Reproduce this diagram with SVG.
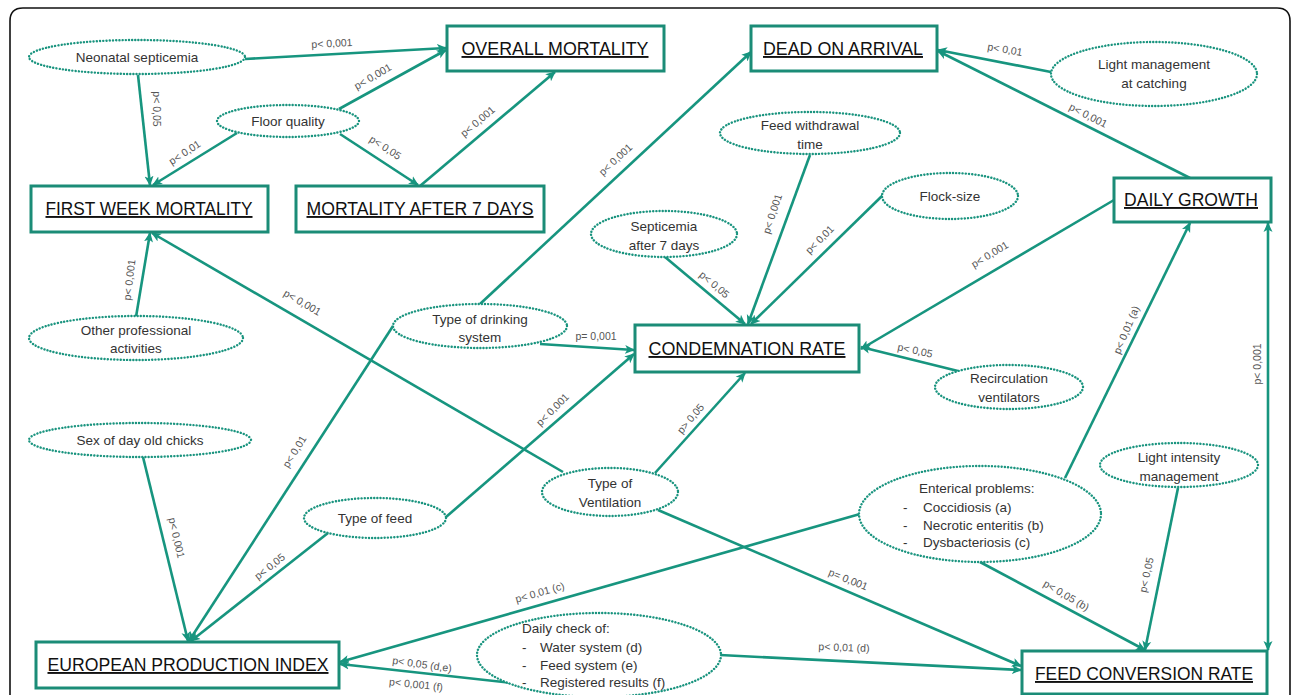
<svg xmlns="http://www.w3.org/2000/svg" width="1292" height="695" viewBox="0 0 1292 695">
<style>
.box{fill:#fff;stroke:#1b8c77;stroke-width:3}
.bt{font-family:"Liberation Sans",Arial,sans-serif;font-size:19px;fill:#111;text-anchor:middle;text-decoration:underline}
.el{fill:#fff;stroke:#1a947f;stroke-width:2.4;stroke-dasharray:0.1 3.1;stroke-linecap:round}
.et{font-family:"Liberation Sans",Arial,sans-serif;font-size:13.5px;fill:#333;text-anchor:middle}
.el2{font-family:"Liberation Sans",Arial,sans-serif;font-size:13.5px;fill:#333}
.c{fill:none;stroke:#17957f;stroke-width:2.6;marker-end:url(#ah)}
.lb{font-family:"Liberation Sans",Arial,sans-serif;font-size:10.5px;fill:#555;text-anchor:middle}
</style>
<defs>
<marker id="ah" markerUnits="userSpaceOnUse" markerWidth="10" markerHeight="10" refX="9" refY="5" orient="auto-start-reverse">
<path d="M0,0.5 L10,5 L0,9.5 L2.5,5 z" fill="#17957f"/>
</marker>
</defs>
<rect width="1292" height="695" fill="#fff"/>
<path d="M10,700 L10,21 Q10,8 23,8 L1277,8 Q1290,8 1290,21 L1290,700" fill="none" stroke="#111" stroke-width="1.6"/>

<g id="connectors">
<path class="c" d="M245,59 L446,48"/>
<path class="c" d="M138,75 L150,185"/>
<path class="c" d="M237,133 L153,185"/>
<path class="c" d="M339,109 L446,50"/>
<path class="c" d="M340,134 L418,185"/>
<path class="c" d="M420,186 L555,72"/>
<path class="c" d="M480,304 L751,52"/>
<path class="c" d="M393,326 L189,641"/>
<path class="c" d="M540,344 L634,350"/>
<path class="c" d="M446,517 L634,354"/>
<path class="c" d="M328,533 L191,641"/>
<path class="c" d="M143,457 L188,641"/>
<path class="c" d="M136,317 L150,233"/>
<path class="c" d="M563,472 L152,233"/>
<path class="c" d="M655,473 L745,373"/>
<path class="c" d="M658,510 L1021,666"/>
<path class="c" d="M665,257 L745,324"/>
<path class="c" d="M810,155 L748,324"/>
<path class="c" d="M883,195 L751,324"/>
<path class="c" d="M1114,200 L861,349"/>
<path class="c" d="M958,371 L861,347"/>
<path class="c" d="M1190,178 L938,51"/>
<path class="c" d="M1051,72 L938,50"/>
<path class="c" d="M1065,478 L1190,223"/>
<path class="c" d="M1268,223 L1268,650" style="marker-start:url(#ah)"/>
<path class="c" d="M980,562 L1145,650"/>
<path class="c" d="M1178,488 L1145,650"/>
<path class="c" d="M860,514 L340,662"/>
<path class="c" d="M720,655 L1021,670"/>
<path class="c" d="M512,683 L340,664"/>
</g>

<g id="labels">
<text class="lb" x="332" y="47" transform="rotate(-3 332 44)">p&lt; 0,001</text>
<text class="lb" x="156" y="112" transform="rotate(90 156 109)">p&lt; 0,05</text>
<text class="lb" x="185" y="156" transform="rotate(-33 185 153)">p&lt; 0,01</text>
<text class="lb" x="373" y="80" transform="rotate(-30 373 77)">p&lt; 0,001</text>
<text class="lb" x="385" y="151" transform="rotate(33 385 148)">p&lt; 0,05</text>
<text class="lb" x="478" y="125" transform="rotate(-40 478 122)">p&lt; 0,001</text>
<text class="lb" x="616" y="163" transform="rotate(-43 616 160)">p&lt; 0,001</text>
<text class="lb" x="295" y="455" transform="rotate(-58 295 452)">p&lt; 0,01</text>
<text class="lb" x="596" y="340">p= 0,001</text>
<text class="lb" x="553" y="413" transform="rotate(-45 553 410)">p&lt; 0,001</text>
<text class="lb" x="270" y="570" transform="rotate(-38 270 567)">p&lt; 0,05</text>
<text class="lb" x="176" y="541" transform="rotate(77 176 538)">p&lt; 0,001</text>
<text class="lb" x="130" y="283" transform="rotate(-83 130 280)">p&lt; 0,001</text>
<text class="lb" x="302" y="306" transform="rotate(30 302 303)">p&lt; 0,001</text>
<text class="lb" x="691" y="422" transform="rotate(-50 691 419)">p&gt; 0,05</text>
<text class="lb" x="848" y="583" transform="rotate(22 848 580)">p= 0,001</text>
<text class="lb" x="714" y="288" transform="rotate(40 714 285)">p&lt; 0,05</text>
<text class="lb" x="773" y="217" transform="rotate(-72 773 214)">p&lt; 0,001</text>
<text class="lb" x="820" y="243" transform="rotate(-45 820 240)">p&lt; 0,01</text>
<text class="lb" x="990" y="258" transform="rotate(-31 990 255)">p&lt; 0,001</text>
<text class="lb" x="915" y="354" transform="rotate(12 915 351)">p&lt; 0,05</text>
<text class="lb" x="1088" y="119" transform="rotate(27 1088 116)">p&lt; 0,001</text>
<text class="lb" x="1005" y="53" transform="rotate(10 1005 50)">p&lt; 0,01</text>
<text class="lb" x="1127" y="333" transform="rotate(-67 1127 330)">p&lt; 0,01 (a)</text>
<text class="lb" x="1258" y="367" transform="rotate(-90 1258 364)">p&lt; 0,001</text>
<text class="lb" x="1066" y="599" transform="rotate(30 1066 596)">p&lt; 0,05 (b)</text>
<text class="lb" x="1147" y="578" transform="rotate(-78 1147 575)">p&lt; 0,05</text>
<text class="lb" x="540" y="596" transform="rotate(-16 540 593)">p&lt; 0,01 (c)</text>
<text class="lb" x="844" y="651" transform="rotate(2 844 648)">p&lt; 0,01 (d)</text>
<text class="lb" x="422" y="668" transform="rotate(8 422 665)">p&lt; 0,05 (d,e)</text>
<text class="lb" x="416" y="688" transform="rotate(6 416 685)">p&lt; 0,001 (f)</text>
</g>

<g id="overall-mortality"><rect class="box" x="447" y="26" width="217" height="45"/><text class="bt" x="555" y="55" textLength="187" lengthAdjust="spacingAndGlyphs">OVERALL MORTALITY</text></g>
<g id="dead-on-arrival"><rect class="box" x="751" y="26" width="186" height="45"/><text class="bt" x="843" y="55" textLength="160" lengthAdjust="spacingAndGlyphs">DEAD ON ARRIVAL</text></g>
<g id="first-week-mortality"><rect class="box" x="31" y="186" width="237" height="46"/><text class="bt" x="149" y="215" textLength="207" lengthAdjust="spacingAndGlyphs">FIRST WEEK MORTALITY</text></g>
<g id="mortality-after-7-days"><rect class="box" x="296" y="186" width="248" height="46"/><text class="bt" x="420" y="215" textLength="227" lengthAdjust="spacingAndGlyphs">MORTALITY AFTER 7 DAYS</text></g>
<g id="daily-growth"><rect class="box" x="1114" y="178" width="157" height="44"/><text class="bt" x="1191" y="206" textLength="134" lengthAdjust="spacingAndGlyphs">DAILY GROWTH</text></g>
<g id="condemnation-rate"><rect class="box" x="635" y="325" width="224" height="47"/><text class="bt" x="747" y="355" textLength="197" lengthAdjust="spacingAndGlyphs">CONDEMNATION RATE</text></g>
<g id="european-production-index"><rect class="box" x="36" y="642" width="303" height="46"/><text class="bt" x="188" y="671" textLength="281" lengthAdjust="spacingAndGlyphs">EUROPEAN PRODUCTION INDEX</text></g>
<g id="feed-conversion-rate"><rect class="box" x="1022" y="651" width="245" height="43"/><text class="bt" x="1144" y="680" textLength="218" lengthAdjust="spacingAndGlyphs">FEED CONVERSION RATE</text></g>

<g id="neonatal-septicemia"><ellipse class="el" cx="137" cy="57" rx="108" ry="17"/><text class="et" x="137" y="62">Neonatal septicemia</text></g>
<g id="floor-quality"><ellipse class="el" cx="288" cy="121" rx="71" ry="16"/><text class="et" x="288" y="126">Floor quality</text></g>
<g id="feed-withdrawal-time"><ellipse class="el" cx="810" cy="133" rx="90" ry="21"/><text class="et" x="810" y="130">Feed withdrawal</text><text class="et" x="810" y="149">time</text></g>
<g id="light-management-at-catching"><ellipse class="el" cx="1154" cy="74" rx="103" ry="32"/><text class="et" x="1154" y="69">Light management</text><text class="et" x="1154" y="88">at catching</text></g>
<g id="flock-size"><ellipse class="el" cx="950" cy="196" rx="68" ry="23"/><text class="et" x="950" y="201">Flock-size</text></g>
<g id="septicemia-after-7-days"><ellipse class="el" cx="664" cy="234" rx="73" ry="23"/><text class="et" x="664" y="231">Septicemia</text><text class="et" x="664" y="250">after 7 days</text></g>
<g id="other-professional-activities"><ellipse class="el" cx="136" cy="338" rx="107" ry="22"/><text class="et" x="136" y="335">Other professional</text><text class="et" x="136" y="353">activities</text></g>
<g id="sex-of-day-old-chicks"><ellipse class="el" cx="140" cy="440" rx="111" ry="17"/><text class="et" x="140" y="445">Sex of day old chicks</text></g>
<g id="type-of-drinking-system"><ellipse class="el" cx="480" cy="326" rx="87" ry="22"/><text class="et" x="480" y="324">Type of drinking</text><text class="et" x="480" y="342">system</text></g>
<g id="recirculation-ventilators"><ellipse class="el" cx="1009" cy="387" rx="74" ry="22"/><text class="et" x="1009" y="383">Recirculation</text><text class="et" x="1009" y="402">ventilators</text></g>
<g id="light-intensity-management"><ellipse class="el" cx="1179" cy="465" rx="79" ry="22"/><text class="et" x="1179" y="462">Light intensity</text><text class="et" x="1179" y="481">management</text></g>
<g id="type-of-ventilation"><ellipse class="el" cx="610" cy="492" rx="68" ry="24"/><text class="et" x="610" y="488">Type of</text><text class="et" x="610" y="507">Ventilation</text></g>
<g id="type-of-feed"><ellipse class="el" cx="375" cy="518" rx="71" ry="20"/><text class="et" x="375" y="523">Type of feed</text></g>
<g id="enterical-problems"><ellipse class="el" cx="980" cy="514" rx="121" ry="48"/>
<text class="el2" x="919" y="493">Enterical problems:</text>
<text class="el2" x="903" y="512">-</text><text class="el2" x="923" y="512">Coccidiosis (a)</text>
<text class="el2" x="903" y="530">-</text><text class="el2" x="923" y="530">Necrotic enteritis (b)</text>
<text class="el2" x="903" y="547">-</text><text class="el2" x="923" y="547">Dysbacteriosis (c)</text></g>
<g id="daily-check"><ellipse class="el" cx="599" cy="655" rx="122" ry="42"/>
<text class="el2" x="522" y="633">Daily check of:</text>
<text class="el2" x="522" y="652">-</text><text class="el2" x="540" y="652">Water system (d)</text>
<text class="el2" x="522" y="670">-</text><text class="el2" x="540" y="670">Feed system (e)</text>
<text class="el2" x="522" y="687">-</text><text class="el2" x="540" y="687">Registered results (f)</text></g>
</svg>
